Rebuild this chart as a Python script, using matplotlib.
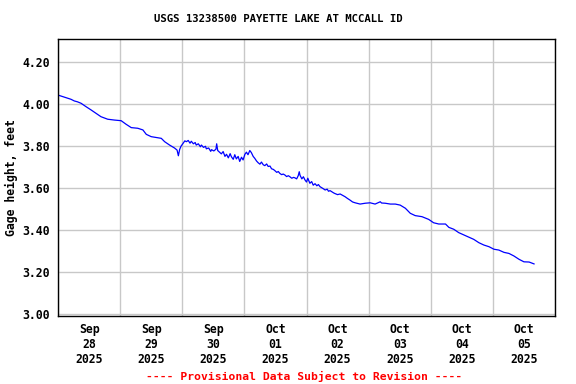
import numpy as np
import pandas as pd
import matplotlib
matplotlib.use('Agg')
import matplotlib.pyplot as plt
import matplotlib.dates as mdates

# Lecturas aproximadas: horas desde 2025-09-28 00:00 y nivel (ft)
horas = [0, 2, 3.7, 5, 6.3, 7.5, 8.9, 10.8, 12.8, 14.7, 16.6, 19.2, 21.8,
         24.4, 26.3, 28.3, 30.8, 32.8, 34.1, 36, 38.6, 39.9, 41.2, 43.1, 45,
         46, 46.5, 47, 47.5, 48.3, 49, 49.6, 50.3, 51, 51.5, 52.3, 53, 53.4,
         54.2, 55, 55.4, 56.2, 57, 57.3, 58.2, 59, 59.3, 60.2, 61, 61.3, 61.7,
         62.4, 63.1, 63.8, 64.5, 65.1, 65.8, 66.5, 67, 67.7, 68.3, 68.9, 69.6,
         70.2, 70.9, 71.5, 72.2, 72.8, 73.4, 74.1, 74.7, 75.4, 76, 76.7, 77.3,
         78, 78.6, 79.3, 79.9, 80.6, 81.2, 81.9, 82.5, 83.2, 83.8, 84.5, 85.1,
         85.7, 86.4, 87, 87.7, 88.3, 89, 89.6, 90.3, 91, 91.5, 92.2, 92.8,
         93.2, 93.5, 94.2, 94.8, 95.4, 96, 96.5, 97.3, 98, 98.6, 99.3, 100,
         100.6, 101.2, 102, 102.5, 103.2, 104, 104.5, 105.1, 106, 106.5, 107,
         108, 109, 110, 110.9, 111.8, 112.8, 113.8, 114.8, 116, 116.7, 118.7,
         120.6, 122.5, 124.5, 125, 126.4, 128.4, 130.3, 132.2, 134.2, 136.1,
         138, 140.6, 143.2, 145.1, 147.1, 149.7, 151, 152.9, 154.8, 156.8,
         158.7, 160.6, 162.6, 164.5, 166.5, 168.4, 170.3, 172.3, 174.2, 176.1,
         178.1, 180, 182, 183.9]
nivel = [4.044, 4.036, 4.029, 4.024, 4.016, 4.012, 4.005, 3.989, 3.973, 3.957,
         3.941, 3.929, 3.925, 3.922, 3.905, 3.889, 3.886, 3.878, 3.857, 3.846,
         3.841, 3.838, 3.822, 3.806, 3.792, 3.782, 3.755, 3.785, 3.800, 3.814,
         3.826, 3.822, 3.828, 3.815, 3.824, 3.812, 3.818, 3.806, 3.812, 3.798,
         3.806, 3.795, 3.800, 3.788, 3.792, 3.776, 3.784, 3.778, 3.786, 3.812,
         3.780, 3.772, 3.764, 3.775, 3.752, 3.762, 3.745, 3.765, 3.750, 3.738,
         3.760, 3.740, 3.752, 3.728, 3.748, 3.735, 3.762, 3.772, 3.760, 3.780,
         3.770, 3.752, 3.743, 3.730, 3.722, 3.715, 3.725, 3.712, 3.708, 3.716,
         3.704, 3.706, 3.693, 3.690, 3.684, 3.676, 3.680, 3.671, 3.665, 3.668,
         3.663, 3.656, 3.660, 3.655, 3.648, 3.652, 3.650, 3.645, 3.660, 3.679,
         3.662, 3.645, 3.655, 3.640, 3.630, 3.648, 3.624, 3.632, 3.615, 3.622,
         3.612, 3.618, 3.608, 3.602, 3.598, 3.592, 3.596, 3.586, 3.589, 3.582,
         3.578, 3.575, 3.570, 3.573, 3.566, 3.560, 3.552, 3.544, 3.535, 3.531,
         3.527, 3.525, 3.529, 3.531, 3.525, 3.536, 3.530, 3.529, 3.525, 3.525,
         3.520, 3.505, 3.481, 3.470, 3.465, 3.452, 3.436, 3.430, 3.430, 3.414,
         3.405, 3.389, 3.378, 3.367, 3.357, 3.341, 3.330, 3.322, 3.310, 3.306,
         3.295, 3.290, 3.278, 3.262, 3.250, 3.249, 3.240]

y_ticks = [3.00, 3.20, 3.40, 3.60, 3.80, 4.00, 4.20]
titulo = 'USGS 13238500 PAYETTE LAKE AT MCCALL ID'
pie = '---- Provisional Data Subject to Revision ----'

inicio = pd.Timestamp('2025-09-28 00:00')
tiempos = inicio + pd.to_timedelta(horas, unit='h')

plt.rcParams['font.family'] = 'DejaVu Sans Mono'
plt.rcParams['font.weight'] = 'bold'

fig = plt.figure(figsize=(5.76, 3.84), dpi=100)
ax = fig.add_axes([58 / 576, 1 - 316 / 384, 497 / 576, 277 / 384])

ax.plot(tiempos, nivel, color='#0000ff', linewidth=0.9)

ax.set_xlim(inicio, inicio + pd.Timedelta(days=8))
ax.set_ylim(2.992, 4.311)

ax.set_yticks(y_ticks)
ax.yaxis.set_major_formatter(plt.FormatStrFormatter('%.2f'))

# gridlines a medianoche, etiquetas a mediodia
ax.xaxis.set_major_locator(mdates.DayLocator())
ax.xaxis.set_major_formatter(plt.NullFormatter())
ax.xaxis.set_minor_locator(mdates.HourLocator(byhour=[12]))
ax.xaxis.set_minor_formatter(mdates.DateFormatter('%b\n%d\n%Y'))

ax.grid(True, which='major', color='#c8c8c8', linewidth=1)
ax.set_axisbelow(True)
ax.tick_params(which='both', length=0)
ax.tick_params(axis='y', labelsize=8.3, pad=6)
ax.tick_params(axis='x', which='minor', labelsize=8.3, pad=5)
for lbl in ax.xaxis.get_minorticklabels():
    lbl.set_linespacing(1.2)

for s in ax.spines.values():
    s.set_linewidth(1)
    s.set_color('black')

ax.set_ylabel('Gage height, feet', fontsize=8.3, fontweight='bold', labelpad=3)

fig.text(278 / 576, 1 - 19 / 384, titulo, ha='center', va='center',
         fontsize=7.7, fontweight='bold')
fig.text(304 / 576, 1 - 376 / 384, pie, ha='center', va='center',
         fontsize=8.2, fontweight='bold', color='#ff0000')

fig.savefig('out.png', dpi=100)
